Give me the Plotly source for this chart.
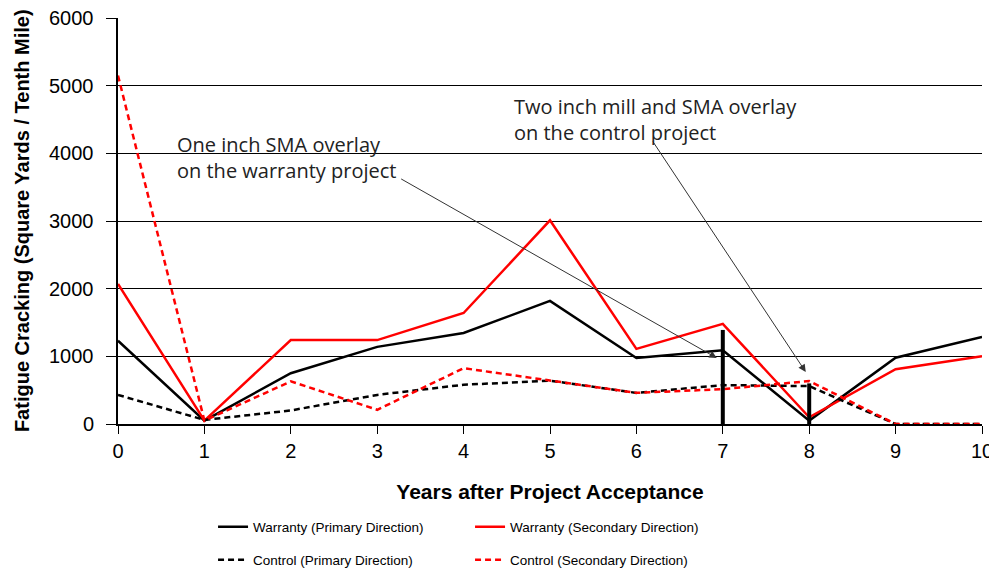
import plotly.graph_objects as go

years = [0, 1, 2, 3, 4, 5, 6, 7, 8, 9, 10]
warranty_primary = [1230, 50, 750, 1140, 1345, 1820, 975, 1090, 50, 980, 1285]
warranty_secondary = [2070, 50, 1240, 1240, 1640, 3010, 1110, 1480, 100, 810, 1000]
control_primary = [430, 60, 200, 430, 580, 640, 460, 575, 560, 0, 0]
control_secondary = [5150, 50, 630, 210, 825, 640, 460, 515, 635, 0, 0]

# treatment markers (vertical bars)
treat_x = [7, 7, None, 8, 8]
treat_y = [0, 1390, None, 0, 600]

y_ticks = [0, 1000, 2000, 3000, 4000, 5000, 6000]

fig = go.Figure()
fig.add_trace(go.Scatter(x=years, y=warranty_primary, mode="lines", name="Warranty (Primary Direction)",
                         line=dict(color="black", width=2.5), legend="legend"))
fig.add_trace(go.Scatter(x=years, y=warranty_secondary, mode="lines", name="Warranty (Secondary Direction)",
                         line=dict(color="#ff0000", width=2.5), legend="legend"))
fig.add_trace(go.Scatter(x=years, y=control_primary, mode="lines", name="Control (Primary Direction)",
                         line=dict(color="black", width=2.5, dash="6px,4px"), legend="legend2"))
fig.add_trace(go.Scatter(x=years, y=control_secondary, mode="lines", name="Control (Secondary Direction)",
                         line=dict(color="#ff0000", width=2.5, dash="6px,4px"), legend="legend2"))
fig.add_trace(go.Scatter(x=treat_x, y=treat_y, mode="lines", showlegend=False,
                         line=dict(color="black", width=4)))

FONT = "Liberation Sans, Arial, sans-serif"
ann_font = dict(family="Open Sans, Lato, sans-serif", size=20, color="#222")
fig.add_annotation(x=6.93, y=975, ax=3.26, ay=3634, xref="x", yref="y", axref="x", ayref="y",
                   text="", showarrow=True, arrowhead=2, arrowsize=1.5, arrowwidth=1, arrowcolor="#333")
fig.add_annotation(x=7.96, y=768, ax=6.18, ay=4195, xref="x", yref="y", axref="x", ayref="y",
                   text="", showarrow=True, arrowhead=2, arrowsize=1.5, arrowwidth=1, arrowcolor="#333")
fig.add_annotation(x=0.66, y=3944, xref="x", yref="y", text="One inch SMA overlay<br>on the warranty project",
                   showarrow=False, xanchor="left", yanchor="middle", align="left", font=ann_font)
fig.add_annotation(x=4.56, y=4498, xref="x", yref="y", text="Two inch mill and SMA overlay<br>on the control project",
                   showarrow=False, xanchor="left", yanchor="middle", align="left", font=ann_font)
# y-axis title
fig.add_annotation(x=-0.111, y=0.5, xref="paper", yref="paper", textangle=-90, showarrow=False,
                   xanchor="center", yanchor="middle",
                   text="<b>Fatigue Cracking (Square Yards / Tenth Mile)</b>",
                   font=dict(family=FONT, size=20, color="black"))

axis_font = dict(family=FONT, size=20, color="black")
# y tick labels placed a little further from the axis, as in the reference
for v in y_ticks:
    fig.add_annotation(x=-0.025, y=v, xref="paper", yref="y", text=str(v), showarrow=False,
                       xanchor="right", yanchor="middle", font=axis_font)

legend_font = dict(family=FONT, size=13.5, color="black")
fig.update_layout(
    width=989, height=562,
    margin=dict(l=110, r=15, t=10, b=146, autoexpand=False),
    plot_bgcolor="white", paper_bgcolor="white",
    font=dict(family=FONT, color="black"),
    xaxis=dict(range=[0, 10], tickvals=years, ticks="outside", ticklen=8, tickcolor="black",
               showline=True, linecolor="black", linewidth=1.5, showgrid=False, zeroline=False,
               tickfont=axis_font, automargin=False, ticklabeloverflow="allow",
               title=dict(text="<b>Years after Project Acceptance</b>", font=dict(family=FONT, size=21), standoff=24)),
    yaxis=dict(range=[0, 6000], tickvals=y_ticks, ticks="outside", ticklen=10, showticklabels=False,
               tickcolor="black", showline=True, linecolor="black", linewidth=1.5, showgrid=True,
               gridcolor="black", gridwidth=1, zeroline=False, automargin=False),
    legend=dict(orientation="h", x=0.11, y=0.0765, xanchor="left", yanchor="middle", yref="container",
                entrywidth=212, entrywidthmode="pixels",
                font=legend_font, bgcolor="rgba(0,0,0,0)"),
    legend2=dict(orientation="h", x=0.11, y=0.0178, xanchor="left", yanchor="middle", yref="container",
                 entrywidth=212, entrywidthmode="pixels",
                 font=legend_font, bgcolor="rgba(0,0,0,0)"),
)

fig.write_html("out.html")
